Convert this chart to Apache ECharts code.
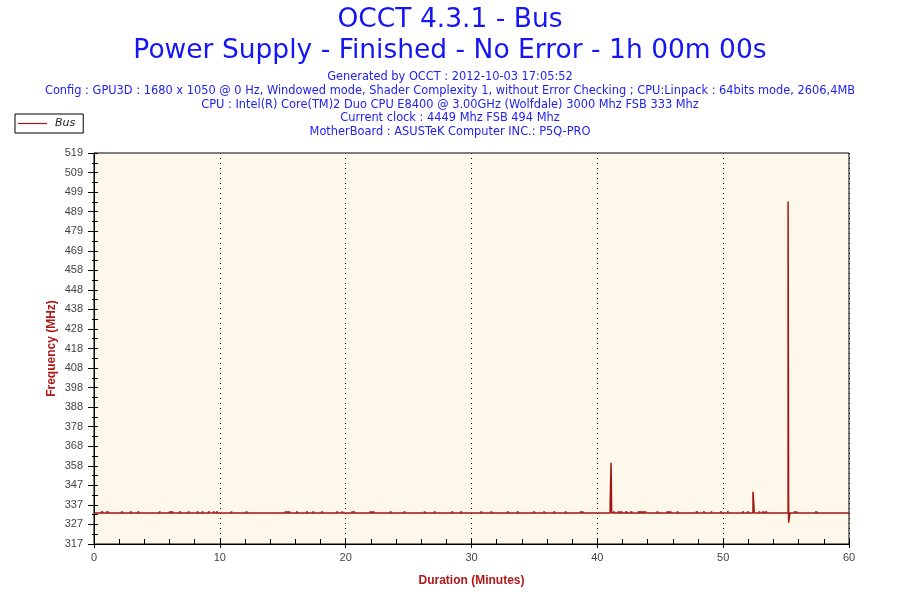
<!DOCTYPE html>
<html>
<head>
<meta charset="utf-8">
<script src="https://cdn.jsdelivr.net/npm/echarts@6/dist/echarts.min.js"></script>
<style>html,body{margin:0;padding:0;background:#fff;}#c{width:900px;height:600px;}</style>
</head>
<body>
<div id="c"></div>
<script>
const titleLines = ["OCCT 4.3.1 - Bus", "Power Supply - Finished - No Error - 1h 00m 00s"];
const infoLines = [
  "Generated by OCCT : 2012-10-03 17:05:52",
  "Config : GPU3D : 1680 x 1050 @ 0 Hz, Windowed mode, Shader Complexity 1, without Error Checking ; CPU:Linpack : 64bits mode, 2606,4MB",
  "CPU : Intel(R) Core(TM)2 Duo CPU E8400 @ 3.00GHz (Wolfdale) 3000 Mhz FSB 333 Mhz",
  "Current clock : 4449 Mhz FSB 494 Mhz",
  "MotherBoard : ASUSTeK Computer INC.: P5Q-PRO"
];
const seriesName = "Bus";
const yTickLabels = ["317","327","337","347","358","368","378","388","398","408","418","428","438","448","458","469","479","489","499","509","519"];
const xTickLabels = ["0","10","20","30","40","50","60"];
// main trace: time in minutes, value in MHz (value holds from this time until the next one)
const busTimes  = [0,   41.02, 41.09, 41.14, 52.37, 52.42, 52.47, 55.16, 55.2, 55.3, 60];
const busValues = [333, 338,   359,   333,   344,   339,   333,   494,   328,  333,  333];
// short periods where the bus reads slightly higher (~333.6 MHz)
const bumpStart = [0.53, 0.95, 2.15, 2.85, 3.45, 5.15, 5.95, 6.75, 7.45, 8.15, 8.55, 9.05, 9.45, 9.7,
  10.85, 12.05, 15.15, 16.05, 16.85, 17.35, 18.05, 19.25, 19.65, 20.45, 21.9, 23.5, 24.6, 26.2,
  27.0, 28.4, 29.1, 30.7, 31.5, 32.8, 33.6, 34.9, 35.7, 36.5, 37.4, 38.6, 41.25, 41.6, 42.2, 42.6,
  43.2, 44.7, 45.5, 46.3, 47.8, 48.4, 49.0, 49.75, 50.3, 51.5, 51.9, 52.8, 53.1, 53.3, 55.6, 57.3];
const bumpEnd = [0.74, 1.17, 2.3, 3.0, 3.6, 5.3, 6.3, 6.9, 7.6, 8.3, 8.7, 9.2, 9.6, 9.85,
  11.0, 12.2, 15.6, 16.2, 17.0, 17.5, 18.2, 19.4, 19.8, 20.75, 22.3, 23.65, 24.75, 26.35,
  27.15, 28.55, 29.25, 30.85, 31.65, 32.95, 33.75, 35.05, 35.85, 36.65, 37.55, 38.9, 41.4, 42.0, 42.4, 42.8,
  43.9, 44.85, 45.9, 46.45, 48.0, 48.55, 49.15, 49.9, 50.45, 51.65, 52.05, 52.95, 53.25, 53.5, 55.9, 57.5];
const bumpValue = 333.6;

const yMin = 317, yMax = 519, yStep = 10.1;
const lineColor = '#a01414';
const data = busTimes.map((t, i) => [t, busValues[i]]);
const bumpData = bumpStart.map((s, i) => ({ coords: [[s, bumpValue], [bumpEnd[i], bumpValue]] }));
const chart = echarts.init(document.getElementById('c'));
const titles = [];
titleLines.forEach((s, i) => titles.push({
  text: s, left: 'center', top: [7, 38][i], padding: 0,
  textStyle: { fontFamily: 'DejaVu Sans', fontSize: 26.5, fontWeight: 'normal', color: '#1414f5' }
}));
infoLines.forEach((s, i) => titles.push({
  text: s, left: 'center', top: 71.5 + i * 13.8, padding: 0,
  textStyle: { fontFamily: 'DejaVu Sans', fontSize: 11.4, fontWeight: 'normal', color: '#2222ee' }
}));
const axisLabelStyle = { fontFamily: 'Liberation Sans', fontSize: 11, color: '#444' };
const nameStyle = { fontFamily: 'Liberation Sans', fontSize: 12, fontWeight: 'bold', color: '#b01818' };
chart.setOption({
  animation: false,
  backgroundColor: '#fff',
  title: titles,
  legend: {
    left: 15, top: 114, orient: 'vertical',
    data: [{ name: seriesName, icon: 'rect' }],
    itemWidth: 29, itemHeight: 1.2, itemGap: 0,
    padding: [4, 8, 4, 3],
    borderColor: '#000', borderWidth: 1, backgroundColor: '#fff',
    textStyle: { fontFamily: 'DejaVu Sans', fontSize: 11, fontStyle: 'italic', color: '#222', padding: [0, 0, 0, 3] }
  },
  grid: { left: 94, right: 51, top: 153, bottom: 56, show: true, backgroundColor: '#fdf8ea', borderColor: '#000', borderWidth: 1 },
  xAxis: [{
    type: 'value', min: 0, max: 60, interval: 10,
    name: 'Duration (Minutes)', nameLocation: 'middle', nameGap: 31, nameTextStyle: nameStyle,
    axisLine: { show: true, lineStyle: { color: '#000', width: 1 } },
    axisTick: { show: true, inside: true, length: 5, lineStyle: { color: '#000' } },
    minorTick: { show: true, splitNumber: 5, length: 5, lineStyle: { color: '#000' } },
    axisLabel: Object.assign({ margin: 8, formatter: v => xTickLabels[Math.round(v / 10)] }, axisLabelStyle),
    splitLine: { show: true, lineStyle: { color: '#000', type: [1, 4], width: 1 } }
  }, {
    type: 'value', min: 0, max: 60, interval: 10, position: 'bottom',
    axisLine: { show: false }, axisTick: { show: true, inside: false, length: 4, lineStyle: { color: '#000' } },
    axisLabel: { show: false }, splitLine: { show: false }
  }],
  yAxis: [{
    type: 'value', min: yMin, max: yMax, interval: yStep,
    name: 'Frequency (MHz)', nameLocation: 'middle', nameGap: 36, nameMoveOverlap: false, nameTextStyle: nameStyle,
    axisLine: { show: true, lineStyle: { color: '#000', width: 1 } },
    axisTick: { show: true, inside: true, length: 4, lineStyle: { color: '#000' } },
    minorTick: { show: true, splitNumber: 2, length: 4, lineStyle: { color: '#000' } },
    axisLabel: Object.assign({ margin: 11, formatter: v => yTickLabels[Math.round((v - yMin) / yStep)] }, axisLabelStyle),
    splitLine: { show: false }
  }, {
    type: 'value', min: yMin, max: yMax, interval: yStep, position: 'left',
    axisLine: { show: false }, axisTick: { show: true, inside: false, length: 6, lineStyle: { color: '#000' } },
    minorTick: { show: true, splitNumber: 2, length: 2, lineStyle: { color: '#000' } },
    axisLabel: { show: false }, splitLine: { show: false }
  }],
  series: [{
    name: seriesName, type: 'line', data: data, step: 'end',
    showSymbol: false, symbol: 'none',
    lineStyle: { color: lineColor, width: 1.5 }, itemStyle: { color: lineColor }
  }, {
    name: seriesName, type: 'lines', coordinateSystem: 'cartesian2d', xAxisIndex: 0, yAxisIndex: 0,
    data: bumpData, symbol: 'none',
    lineStyle: { color: lineColor, width: 1.5, opacity: 1 }
  }]
});
</script>
</body>
</html>
